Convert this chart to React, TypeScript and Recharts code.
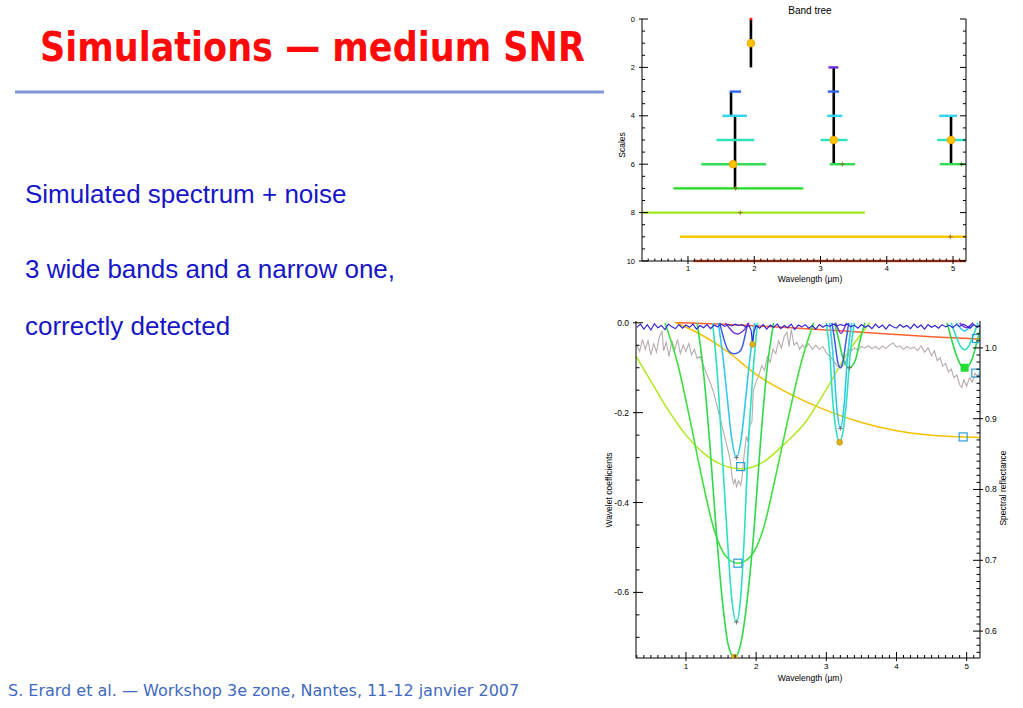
import React from 'react';
import { ComposedChart, Line, XAxis, YAxis } from 'recharts';

type Pair = [number, number];

// ---------- Band tree (top chart) ----------
const treeXMajor = [1, 2, 3, 4, 5];
const treeYMajor = [0, 2, 4, 6, 8, 10];

// horizontal bars: scale level, start and end wavelength
const barScale = [0, 2, 3, 3, 4, 4, 4, 5, 5, 5, 6, 6, 6, 7, 8, 9, 10];
const barFrom = [1.93, 3.12, 1.63, 3.11, 1.52, 3.1, 4.79, 1.43, 3.0, 4.76, 1.2, 3.14, 4.8, 0.78, 0.31, 0.88, 1.08];
const barTo = [1.97, 3.27, 1.8, 3.28, 1.89, 3.33, 5.06, 2.0, 3.41, 5.19, 2.18, 3.52, 5.19, 2.74, 3.67, 5.19, 5.19];

// black stems linking the scales of one band
const stemX = [1.95, 1.65, 1.71, 3.2, 4.97];
const stemTop = [0, 3, 4, 2, 4];
const stemBottom = [2, 4, 7, 6, 6];

// detected bands
const peakX = [1.95, 1.68, 3.2, 4.97];
const peakScale = [1, 6, 5, 5];

// small crosses
const crossX = [1.79, 4.96, 3.33, 5.13, 1.72];
const crossScale = [8, 9, 6, 6, 7];

const scaleColors = ['#ff2020', '#d02080', '#6a2bd8', '#3366ee', '#33d4f0', '#30e4b8', '#33dd55', '#22dd22', '#9ee81a', '#ffc400', '#ff5a28'];

// ---------- Wavelet coefficients (bottom chart) ----------
const waveXMajor = [1, 2, 3, 4, 5];
const waveYMajor = [0, -0.2, -0.4, -0.6];
const reflMajor = [1.0, 0.9, 0.8, 0.7, 0.6];

const scale1: Pair[] = [
  [0.3, -0.01], [0.35, -0.003], [0.4, -0.014], [0.45, -0.004], [0.5, -0.016], [0.55, -0.002], [0.6, -0.011], [0.65, -0.006],
  [0.7, -0.015], [0.75, -0.003], [0.8, -0.009], [0.85, -0.013], [0.9, -0.004], [0.95, -0.012], [1.0, -0.005], [1.05, -0.01],
  [1.1, -0.003], [1.15, -0.014], [1.2, -0.006], [1.25, -0.011], [1.3, -0.004], [1.35, -0.013], [1.4, -0.005], [1.45, -0.009],
  [1.5, -0.003], [1.55, -0.008], [1.6, -0.004], [1.65, -0.007], [1.7, -0.003], [1.75, -0.006], [1.8, -0.004], [1.85, -0.01],
  [1.9, -0.006], [1.93, -0.018], [1.95, -0.048], [1.97, -0.02], [2.0, -0.006], [2.05, -0.012], [2.1, -0.004], [2.15, -0.014],
  [2.2, -0.005], [2.25, -0.01], [2.3, -0.003], [2.35, -0.013], [2.4, -0.006], [2.45, -0.011], [2.5, -0.003], [2.55, -0.015],
  [2.6, -0.005], [2.65, -0.009], [2.7, -0.004], [2.75, -0.012], [2.8, -0.006], [2.85, -0.014], [2.9, -0.004], [2.95, -0.01],
  [3.0, -0.005], [3.05, -0.008], [3.1, -0.003], [3.15, -0.007], [3.2, -0.004], [3.25, -0.006], [3.3, -0.003], [3.35, -0.009],
  [3.4, -0.005], [3.45, -0.012], [3.5, -0.004], [3.55, -0.01], [3.6, -0.006], [3.65, -0.013], [3.7, -0.003], [3.75, -0.011],
  [3.8, -0.005], [3.85, -0.014], [3.9, -0.004], [3.95, -0.009], [4.0, -0.012], [4.05, -0.004], [4.1, -0.01], [4.15, -0.006],
  [4.2, -0.013], [4.25, -0.003], [4.3, -0.011], [4.35, -0.005], [4.4, -0.014], [4.45, -0.004], [4.5, -0.01], [4.55, -0.006],
  [4.6, -0.012], [4.65, -0.004], [4.7, -0.009], [4.75, -0.005], [4.8, -0.011], [4.85, -0.004], [4.9, -0.008], [4.95, -0.003],
  [5.0, -0.007], [5.05, -0.012], [5.1, -0.004], [5.15, -0.01], [5.19, -0.005],
];

const scale2: Pair[][] = [
  [[1.56, 0], [1.62, -0.012], [1.68, -0.022], [1.74, -0.025], [1.8, -0.02], [1.86, -0.01], [1.9, 0]],
  [[3.13, 0], [3.17, -0.014], [3.21, -0.024], [3.25, -0.014], [3.29, 0]],
  [[4.9, 0], [4.95, -0.008], [5.0, -0.011], [5.05, -0.006], [5.09, 0]],
];

const scale3: Pair[][] = [
  [[1.48, 0], [1.53, -0.03], [1.58, -0.055], [1.63, -0.066], [1.69, -0.069], [1.75, -0.066], [1.8, -0.055], [1.84, -0.03], [1.88, 0]],
  [[3.08, 0], [3.12, -0.04], [3.16, -0.085], [3.2, -0.1], [3.24, -0.085], [3.28, -0.04], [3.32, 0]],
];

const scale4: Pair[][] = [
  [[1.46, 0], [1.53, -0.08], [1.59, -0.17], [1.65, -0.255], [1.72, -0.3], [1.79, -0.255], [1.85, -0.17], [1.91, -0.08], [1.98, 0]],
  [[3.05, 0], [3.1, -0.08], [3.15, -0.19], [3.2, -0.235], [3.25, -0.19], [3.3, -0.08], [3.36, 0]],
  [[4.85, 0], [4.9, -0.01], [4.97, -0.018], [5.04, -0.01], [5.09, 0]],
];

const scale5: Pair[][] = [
  [[1.38, 0], [1.45, -0.12], [1.52, -0.3], [1.59, -0.48], [1.65, -0.61], [1.72, -0.666], [1.78, -0.61], [1.83, -0.48], [1.88, -0.3], [1.95, -0.12], [2.02, 0]],
  [[3.0, 0], [3.05, -0.07], [3.09, -0.17], [3.14, -0.24], [3.19, -0.265], [3.24, -0.24], [3.29, -0.17], [3.34, -0.07], [3.4, 0]],
  [[4.78, 0], [4.85, -0.03], [4.91, -0.052], [4.97, -0.06], [5.03, -0.052], [5.09, -0.03], [5.16, 0]],
];

const scale6: Pair[][] = [
  [[1.16, 0], [1.25, -0.11], [1.34, -0.27], [1.43, -0.46], [1.52, -0.62], [1.6, -0.715], [1.69, -0.745], [1.78, -0.715], [1.87, -0.62], [1.97, -0.46], [2.06, -0.27], [2.15, -0.11], [2.25, 0]],
  [[3.12, 0], [3.18, -0.04], [3.24, -0.08], [3.33, -0.1], [3.42, -0.08], [3.48, -0.04], [3.55, 0]],
  [[4.72, 0], [4.79, -0.04], [4.86, -0.075], [4.92, -0.095], [4.97, -0.1], [5.03, -0.095], [5.09, -0.075], [5.15, -0.04], [5.22, 0]],
];

const scale7: Pair[] = [
  [0.7, 0], [0.88, -0.09], [1.05, -0.21], [1.22, -0.34], [1.4, -0.46], [1.57, -0.52], [1.74, -0.535],
  [1.92, -0.52], [2.1, -0.46], [2.28, -0.34], [2.46, -0.21], [2.64, -0.09], [2.82, 0],
];

const scale8: Pair[] = [
  [0.29, -0.075], [0.5, -0.13], [0.75, -0.195], [1.0, -0.25], [1.25, -0.29], [1.5, -0.315], [1.8, -0.325],
  [2.1, -0.31], [2.4, -0.27], [2.7, -0.222], [3.0, -0.148], [3.3, -0.068], [3.62, 0],
];

const scale9: Pair[] = [
  [0.85, 0], [1.2, -0.025], [1.6, -0.065], [2.0, -0.115], [2.5, -0.16], [3.0, -0.195], [3.5, -0.222],
  [4.0, -0.24], [4.5, -0.25], [5.0, -0.254], [5.19, -0.255],
];

const scale10: Pair[] = [
  [0.85, 0], [1.5, -0.003], [2.0, -0.007], [2.5, -0.011], [3.0, -0.016], [3.5, -0.021], [4.0, -0.026], [4.5, -0.031], [5.19, -0.036],
];

// simulated spectrum + noise (right axis)
const spectrum: Pair[] = [
  [0.3, 1.004], [0.34, 0.995], [0.38, 1.012], [0.42, 0.998], [0.46, 1.01], [0.5, 0.99], [0.54, 1.006], [0.58, 0.994],
  [0.62, 1.015], [0.66, 1.024], [0.68, 0.996], [0.72, 1.008], [0.76, 0.988], [0.8, 1.01], [0.84, 0.997], [0.88, 1.012],
  [0.92, 0.992], [0.96, 1.004], [1.0, 0.995], [1.04, 1.006], [1.08, 0.99], [1.12, 0.998], [1.16, 0.985], [1.2, 0.988],
  [1.25, 0.975], [1.3, 0.962], [1.35, 0.95], [1.4, 0.935], [1.45, 0.915], [1.5, 0.895], [1.55, 0.875], [1.6, 0.855],
  [1.63, 0.842], [1.66, 0.815], [1.68, 0.808], [1.7, 0.815], [1.72, 0.804], [1.75, 0.812], [1.78, 0.806], [1.8, 0.818],
  [1.83, 0.85], [1.86, 0.875], [1.88, 0.868], [1.91, 0.89], [1.94, 0.896], [1.96, 0.94], [2.0, 0.952], [2.04, 0.962],
  [2.08, 0.975], [2.12, 0.968], [2.16, 0.988], [2.2, 0.98], [2.24, 0.998], [2.28, 0.992], [2.32, 1.01], [2.36, 1.0],
  [2.4, 1.016], [2.44, 1.022], [2.47, 1.002], [2.5, 1.026], [2.54, 1.004], [2.58, 1.008], [2.62, 0.998], [2.66, 1.004],
  [2.7, 1.0], [2.75, 1.006], [2.8, 0.998], [2.85, 1.004], [2.9, 0.998], [2.95, 1.002], [3.0, 0.993], [3.05, 0.988],
  [3.1, 0.982], [3.15, 0.975], [3.2, 0.972], [3.25, 0.976], [3.3, 0.986], [3.35, 0.995], [3.4, 1.0], [3.45, 0.997],
  [3.5, 1.002], [3.55, 1.0], [3.6, 1.003], [3.65, 0.999], [3.7, 1.002], [3.75, 0.998], [3.8, 1.003], [3.85, 0.999],
  [3.9, 1.004], [3.95, 1.007], [4.0, 1.001], [4.05, 1.003], [4.1, 0.998], [4.15, 1.002], [4.2, 0.999], [4.25, 1.001],
  [4.3, 0.996], [4.35, 1.003], [4.4, 0.994], [4.45, 1.0], [4.5, 0.989], [4.54, 0.996], [4.58, 0.982], [4.62, 0.986],
  [4.66, 0.974], [4.7, 0.978], [4.74, 0.966], [4.78, 0.97], [4.82, 0.958], [4.86, 0.962], [4.9, 0.948], [4.93, 0.944],
  [4.96, 0.955], [5.0, 0.946], [5.04, 0.958], [5.08, 0.952], [5.12, 0.964], [5.16, 0.96], [5.19, 0.968],
];

const boxMarks: Pair[] = [[1.78, -0.32], [1.74, -0.535], [4.95, -0.254], [5.13, -0.112], [5.14, -0.035]];
const goldMarks: Pair[] = [[1.95, -0.048], [3.19, -0.266], [1.69, -0.744]];
const greenMarks: Pair[] = [[4.97, -0.1]];
const plusMarks: Pair[] = [[1.72, -0.3], [1.72, -0.666], [3.2, -0.235], [3.33, -0.1]];

const range = (a: number, b: number, s: number) => {
  const out: number[] = [];
  for (let i = 0; a + i * s <= b + 1e-9; i++) out.push(+(a + i * s).toFixed(4));
  return out;
};
const toPts = (p: Pair[]) => p.map(([x, y]) => ({ x, y }));

const FONT = 'Liberation Sans, Arial, sans-serif';

type Side = 'left' | 'right' | 'top' | 'bottom';

function makeTick(side: Side, majors: number[], fmt: ((v: number) => string) | null, size: number, fontSize: number) {
  return (props: any) => {
    const { x, y, payload, index } = props;
    const v = payload.value as number;
    const isMajor = majors.some((m) => Math.abs(m - v) < 1e-6);
    const len = isMajor ? size : size / 2;
    const out = isMajor && fmt ? 3 : 0;
    let x1 = x, x2 = x, y1 = y, y2 = y;
    if (side === 'left') { x1 = x - out; x2 = x + len; }
    if (side === 'right') { x1 = x + out; x2 = x - len; }
    if (side === 'bottom') { y1 = y + out; y2 = y - len; }
    if (side === 'top') { y2 = y + len; }
    let label: React.ReactNode = null;
    if (fmt && isMajor) {
      const common = { fontFamily: FONT, fontSize, fill: '#000' };
      if (side === 'bottom') label = <text x={x} y={y + fontSize + 2.5} textAnchor="middle" {...common}>{fmt(v)}</text>;
      if (side === 'left') label = <text x={x - 7} y={y + fontSize * 0.35} textAnchor="end" {...common}>{fmt(v)}</text>;
      if (side === 'right') label = <text x={x + 5} y={y + fontSize * 0.35} textAnchor="start" {...common}>{fmt(v)}</text>;
    }
    return (
      <g key={`tk-${side}-${index}`}>
        <line x1={x1} y1={y1} x2={x2} y2={y2} stroke="#000" strokeWidth={1} />
        {label}
      </g>
    );
  };
}

const axisLine = { stroke: '#000', strokeWidth: 1 };

function BandTree() {
  const xTicks = range(0.4, 5.1, 0.1);
  const yTicks = range(0, 10, 0.5);
  const xDomain: [number, number] = [0.306, 5.196];
  return (
    <ComposedChart width={400} height={290} margin={{ top: 19, right: 0, bottom: 0, left: 0 }}>
      <XAxis xAxisId="x" dataKey="x" type="number" domain={xDomain} ticks={xTicks} interval={0}
        tick={makeTick('bottom', treeXMajor, (v) => String(v), 5, 7.5)} tickLine={false} tickSize={0} tickMargin={0} axisLine={axisLine} height={29} />
      <XAxis xAxisId="xt" dataKey="x" orientation="top" type="number" domain={xDomain} allowDataOverflow ticks={xTicks} interval={0}
        tick={makeTick('top', treeXMajor, null, 5, 7.5)} tickLine={false} tickSize={0} tickMargin={0} axisLine={axisLine} height={0} />
      <YAxis yAxisId="y" type="number" reversed domain={[0, 10]} ticks={yTicks} interval={0}
        tick={makeTick('left', treeYMajor, (v) => String(v), 6, 7.5)} tickLine={false} tickSize={0} tickMargin={0} axisLine={axisLine} width={42} />
      <YAxis yAxisId="yr" orientation="right" type="number" reversed domain={[0, 10]} allowDataOverflow ticks={yTicks} interval={0}
        tick={makeTick('right', treeYMajor, null, 6, 7.5)} tickLine={false} tickSize={0} tickMargin={0} axisLine={axisLine} width={34} />

      {stemX.map((sx, i) => (
        <Line key={`stem${i}`} xAxisId="x" yAxisId="y" data={[{ x: sx, y: stemTop[i] }, { x: sx, y: stemBottom[i] }]}
          dataKey="y" type="linear" stroke="#000" strokeWidth={2.6} dot={false} isAnimationActive={false} />
      ))}
      {barScale.map((s, i) => (
        <Line key={`bar${i}`} xAxisId="x" yAxisId="y" data={[{ x: barFrom[i], y: s }, { x: barTo[i], y: s }]}
          dataKey="y" type="linear" stroke={scaleColors[s]} strokeWidth={2.4} dot={false} isAnimationActive={false} />
      ))}
      <Line xAxisId="x" yAxisId="y" data={crossX.map((x, i) => ({ x, y: crossScale[i] }))} dataKey="y" stroke="none"
        isAnimationActive={false}
        dot={(p: any) => (
          <g key={`cr${p.index}`} stroke="#8a6a20" strokeWidth={0.8}>
            <line x1={p.cx - 2.5} x2={p.cx + 2.5} y1={p.cy} y2={p.cy} />
            <line x1={p.cx} x2={p.cx} y1={p.cy - 2.5} y2={p.cy + 2.5} />
          </g>
        )} />
      <Line xAxisId="x" yAxisId="y" data={peakX.map((x, i) => ({ x, y: peakScale[i] }))} dataKey="y" stroke="none"
        isAnimationActive={false}
        dot={(p: any) => <circle key={`pk${p.index}`} cx={p.cx} cy={p.cy} r={3.8} fill="#ffc400" stroke="#e8a800" strokeWidth={1} />} />
    </ComposedChart>
  );
}

function WaveletChart() {
  const xTicks = range(0.3, 5.1, 0.1);
  const yTicks = range(-0.7, 0, 0.05);
  const rTicks = range(0.57, 1.03, 0.01);
  const xDomain: [number, number] = [0.288, 5.19];

  const curves: { pts: Pair[]; color: string; w: number }[] = [
    { pts: scale10, color: '#ff6030', w: 1.5 },
    { pts: scale9, color: '#f2c200', w: 1.5 },
    { pts: scale8, color: '#b0ea1e', w: 1.5 },
    { pts: scale7, color: '#3fe03f', w: 1.6 },
    ...scale6.map((pts) => ({ pts, color: '#2ed84a', w: 1.6 })),
    ...scale5.map((pts) => ({ pts, color: '#2fe0c0', w: 1.6 })),
    ...scale4.map((pts) => ({ pts, color: '#36c8ec', w: 1.6 })),
    ...scale3.map((pts) => ({ pts, color: '#3a5ce8', w: 1.5 })),
    ...scale2.map((pts) => ({ pts, color: '#7a2fd0', w: 1.4 })),
  ];

  return (
    <ComposedChart width={423} height={390} margin={{ top: 21, right: 0, bottom: 0, left: 0 }}>
      <XAxis xAxisId="x" dataKey="x" type="number" domain={xDomain} allowDataOverflow ticks={xTicks} interval={0}
        tick={makeTick('bottom', waveXMajor, (v) => String(v), 6, 8)} tickLine={false} tickSize={0} tickMargin={0} axisLine={axisLine} height={32} />
      <XAxis xAxisId="xt" dataKey="x" orientation="top" type="number" domain={xDomain} allowDataOverflow ticks={xTicks} interval={0}
        tick={makeTick('top', waveXMajor, null, 6, 8)} tickLine={false} tickSize={0} tickMargin={0} axisLine={axisLine} height={0} />
      <YAxis yAxisId="y" type="number" domain={[-0.746, 0.004]} allowDataOverflow ticks={yTicks} interval={0}
        tick={makeTick('left', waveYMajor, (v) => v.toFixed(1), 7, 8.5)} tickLine={false} tickSize={0} tickMargin={0} axisLine={axisLine} width={36} />
      <YAxis yAxisId="r" orientation="right" type="number" domain={[0.562, 1.038]} allowDataOverflow ticks={rTicks} interval={0}
        tick={makeTick('right', reflMajor, (v) => v.toFixed(1), 7, 8.5)} tickLine={false} tickSize={0} tickMargin={0} axisLine={axisLine} width={43} />

      <Line xAxisId="x" yAxisId="r" data={toPts(spectrum)} dataKey="y" type="linear" stroke="#b6acac" strokeWidth={1.1}
        dot={false} isAnimationActive={false} />
      {curves.map((c, i) => (
        <Line key={`c${i}`} xAxisId="x" yAxisId="y" data={toPts(c.pts)} dataKey="y" type="monotone" stroke={c.color}
          strokeWidth={c.w} dot={false} isAnimationActive={false} />
      ))}
      <Line xAxisId="x" yAxisId="y" data={toPts(scale1)} dataKey="y" type="linear" stroke="#2a1fd8" strokeWidth={1.1}
        dot={false} isAnimationActive={false} />

      <Line xAxisId="x" yAxisId="y" data={toPts(plusMarks)} dataKey="y" stroke="none" isAnimationActive={false}
        dot={(p: any) => (
          <g key={`pl${p.index}`} stroke="#7a5a60" strokeWidth={0.8}>
            <line x1={p.cx - 2.5} x2={p.cx + 2.5} y1={p.cy} y2={p.cy} />
            <line x1={p.cx} x2={p.cx} y1={p.cy - 2.5} y2={p.cy + 2.5} />
          </g>
        )} />
      <Line xAxisId="x" yAxisId="y" data={toPts(goldMarks)} dataKey="y" stroke="none" isAnimationActive={false}
        dot={(p: any) => <circle key={`gd${p.index}`} cx={p.cx} cy={p.cy} r={2.8} fill="#e0b020" stroke="#c89a10" />} />
      <Line xAxisId="x" yAxisId="y" data={toPts(greenMarks)} dataKey="y" stroke="none" isAnimationActive={false}
        dot={(p: any) => <rect key={`gm${p.index}`} x={p.cx - 4} y={p.cy - 4} width={8} height={8} fill="#22dd33" />} />
      <Line xAxisId="x" yAxisId="y" data={toPts(boxMarks)} dataKey="y" stroke="none" isAnimationActive={false}
        dot={(p: any) => (
          <rect key={`bx${p.index}`} x={p.cx - 4} y={p.cy - 4} width={8} height={8} fill="none" stroke="#2a9fd6" strokeWidth={1.2} />
        )} />
    </ComposedChart>
  );
}

export default function App() {
  return (
    <div style={{ position: 'absolute', left: 0, top: 0, width: 1023, height: 708, background: '#fff', overflow: 'hidden' }}>
      <svg width={1023} height={708} style={{ position: 'absolute', left: 0, top: 0 }}>
        <text transform="translate(40,61) scale(0.876,1)" fontFamily="DejaVu Sans, sans-serif" fontWeight="bold" fontSize={40}
          fill="#ff0a0a">Simulations — medium SNR</text>
        <line x1={15} x2={604} y1={92} y2={92} stroke="#8097d8" strokeWidth={3} />
        <g fontFamily={FONT} fontSize={26} fill="#1616c8">
          <text x={25} y={203}>Simulated spectrum + noise</text>
          <text x={25} y={278}>3 wide bands and a narrow one,</text>
          <text x={25} y={335}>correctly detected</text>
        </g>
        <text x={8} y={696} fontFamily="DejaVu Sans, sans-serif" fontSize={16} fill="#4169c3">
          S. Erard et al. — Workshop 3e zone, Nantes, 11-12 janvier 2007
        </text>

        <g fontFamily={FONT} fill="#000">
          <text x={810} y={14} fontSize={10} textAnchor="middle">Band tree</text>
          <text x={810} y={282} fontSize={8.5} textAnchor="middle">Wavelength (µm)</text>
          <text transform="translate(625,145) rotate(-90)" fontSize={8.5} textAnchor="middle">Scales</text>
          <text x={810} y={681} fontSize={8.5} textAnchor="middle">Wavelength (µm)</text>
          <text transform="translate(612,490) rotate(-90)" fontSize={8.5} textAnchor="middle">Wavelet coefficients</text>
          <text transform="translate(1006,488) rotate(-90)" fontSize={8.5} textAnchor="middle">Spectral reflectance</text>
        </g>
      </svg>
      <div style={{ position: 'absolute', left: 600, top: 0 }}>
        <BandTree />
      </div>
      <div style={{ position: 'absolute', left: 600, top: 300 }}>
        <WaveletChart />
      </div>
    </div>
  );
}
